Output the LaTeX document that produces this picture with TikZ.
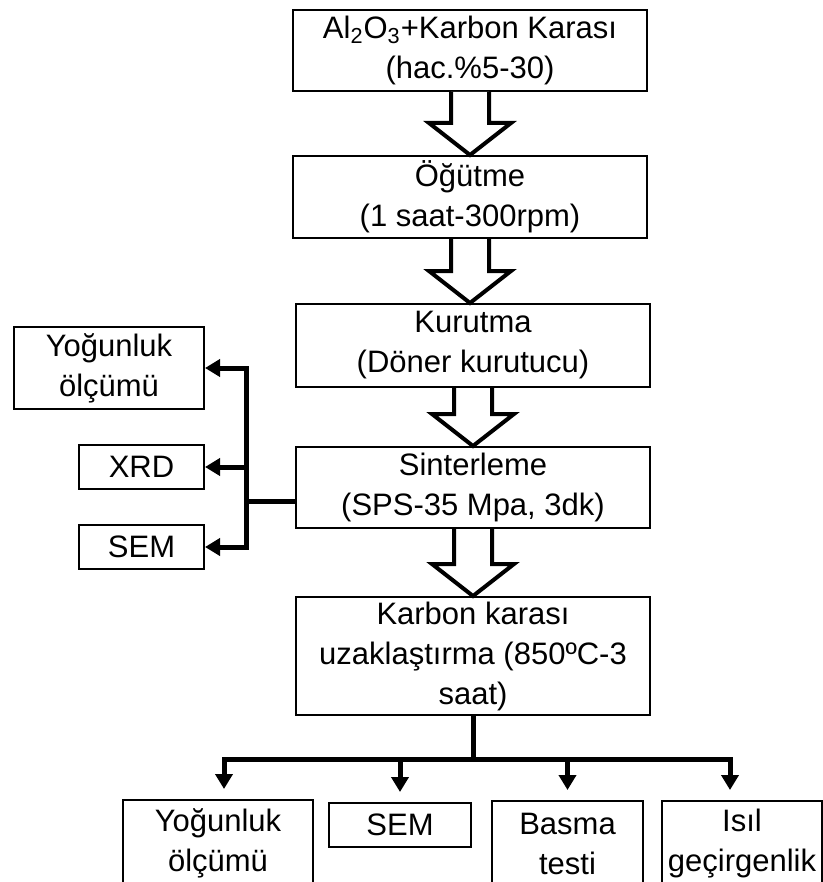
\documentclass[tikz,border=0pt]{standalone}
\usepackage{fontspec}
\setmainfont{Liberation Sans}
\usetikzlibrary{calc,arrows.meta}

\tikzset{
  stepbox/.style={draw, line width=1pt, align=center, inner sep=0pt,
    font=\fontsize{15.5}{20}\selectfont},
  thk/.style={line width=2.5pt, line join=miter},
  arr/.style={thk, -{Triangle[length=7.5pt,width=8.5pt]}},
  blockarr/.style={draw, fill=white, line width=2pt, line join=miter},
}

% hollow block arrow from one box down to the next
\newcommand{\hollowarrow}[2]{%
  \draw[blockarr] let \p1=(#1.south), \p2=(#2.north) in
    (\x1-9.5pt,\y1) -- (\x1-9.5pt,\y2+16pt) -- (\x1-20.5pt,\y2+16pt) -- (\x1,\y2)
    -- (\x1+20.5pt,\y2+16pt) -- (\x1+9.5pt,\y2+16pt) -- (\x1+9.5pt,\y1);
}

\begin{document}
\begin{tikzpicture}[x=0.5pt, y=-0.5pt]
    \clip (0,0) rectangle (823,882);

    % main chain
    \node[stepbox, minimum width=177pt, minimum height=40.5pt] (mix) at (470,50.5)
        {Al\textsubscript{2}O\textsubscript{3}+Karbon Karası\\(hac.\%5-30)};
    \node[stepbox, minimum width=177pt, minimum height=41pt] (ogut) at (470,197)
        {Öğütme\\(1 saat-300rpm)};
    \node[stepbox, minimum width=177pt, minimum height=41.5pt] (kuru) at (473,345.5)
        {Kurutma\\(Döner kurutucu)};
    \node[stepbox, minimum width=177pt, minimum height=40.5pt] (sinter) at (473,487.5)
        {Sinterleme\\(SPS-35 Mpa, 3dk)};
    \node[stepbox, minimum width=177pt, minimum height=59pt] (uzak) at (473,656)
        {Karbon karası\\uzaklaştırma (850ºC-3\\saat)};

    \hollowarrow{mix}{ogut}
    \hollowarrow{ogut}{kuru}
    \hollowarrow{kuru}{sinter}
    \hollowarrow{sinter}{uzak}

    % tests after sintering
    \node[stepbox, minimum width=95pt, minimum height=41pt] (yog1) at (109,368) {Yoğunluk\\ölçümü};
    \node[stepbox, minimum width=62.5pt, minimum height=22pt] (xrd1) at (141.5,467) {XRD};
    \node[stepbox, minimum width=62.5pt, minimum height=22pt] (sem1) at (141.5,547) {SEM};

    \coordinate (jl) at (246,501);
    \draw[thk] (sinter.west |- jl) -- (jl);
    \draw[arr] (jl) |- (yog1.east);
    \draw[arr] (jl) |- (xrd1.east);
    \draw[arr] (jl) |- (sem1.east);

    % tests after carbon removal
    \node[stepbox, minimum width=95pt, minimum height=43pt] (yog2) at (218,843) {Yoğunluk\\ölçümü};
    \node[stepbox, minimum width=71pt, minimum height=22pt] (sem2) at (400,825) {SEM};
    \node[stepbox, minimum width=75.5pt, minimum height=43pt] (basma) at (567.5,844) {Basma\\testi};
    \node[stepbox, minimum width=80pt, minimum height=43pt] (isil) at (742,844) {Isıl\\geçirgenlik};

    \coordinate (jb) at (473,759);
    \draw[thk] (uzak.south) -- (jb);
    \foreach \t/\dx in {yog2/6,sem2/0,basma/0,isil/-12}
        \draw[arr, shorten >=5pt] (jb) -| ([xshift=\dx*0.5pt]\t.north);
\end{tikzpicture}
\end{document}
